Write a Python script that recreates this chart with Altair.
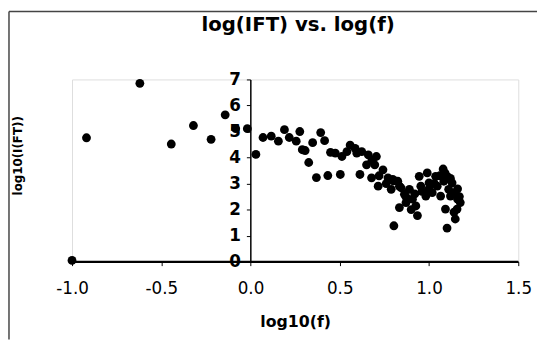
import altair as alt
import pandas as pd

# log10(f) values
x_vals = [
    -1.0, -0.919, -0.62, -0.444, -0.32, -0.221, -0.142, -0.083, -0.018, 0.03,
    0.07, 0.116, 0.156, 0.19, 0.217, 0.256, 0.276, 0.306, 0.326, 0.348,
    0.369, 0.393, 0.415, 0.433, 0.448, 0.475, 0.503, 0.512, 0.54, 0.558,
    0.586, 0.595, 0.623, 0.613, 0.66, 0.65, 0.678, 0.696, 0.705, 0.715,
    0.742, 0.77, 0.788, 0.797, 0.80, 0.825, 0.834, 0.843, 0.834, 0.803,
    0.862, 0.871, 0.89, 0.907, 0.926, 0.935, 0.945, 0.954, 0.982, 0.99,
    1.0, 1.018, 1.037, 1.046, 1.065, 1.079, 1.083, 1.092, 1.101, 1.101,
    1.11, 1.12, 1.129, 1.147, 1.147, 1.157, 1.175,
    0.68, 0.72, 0.76, 0.87, 0.92, 0.96, 1.0, 1.03, 1.06, 1.09,
    1.12, 1.16, 1.17, 1.14, 0.90, 1.16, 0.29,
]
# log10(I(FT)) values
y_vals = [
    0.05, 4.76, 6.85, 4.52, 5.23, 4.70, 5.64, 5.11, 5.11, 4.12,
    4.77, 4.82, 4.63, 5.07, 4.77, 4.63, 5.00, 4.27, 3.81, 4.57,
    3.23, 4.96, 4.65, 3.31, 4.20, 4.17, 3.35, 4.04, 4.23, 4.48,
    4.35, 4.17, 4.23, 3.35, 4.10, 3.72, 3.22, 3.72, 4.04, 2.90,
    3.53, 3.22, 2.78, 3.16, 3.10, 3.09, 2.90, 2.84, 2.08, 1.38,
    2.59, 2.27, 2.78, 2.40, 2.14, 1.77, 3.28, 2.90, 2.52, 3.41,
    3.03, 2.65, 3.28, 2.90, 2.52, 3.56, 3.09, 2.02, 3.28, 1.29,
    2.78, 2.52, 3.03, 2.65, 1.64, 2.02, 2.27,
    3.90, 3.30, 3.00, 2.50, 2.60, 2.70, 2.80, 3.00, 3.30, 3.40,
    3.20, 2.80, 2.50, 1.90, 2.00, 2.40, 4.30,
]
x_ticks = [-1.0, -0.5, 0.0, 0.5, 1.0, 1.5]
y_ticks = [0, 1, 2, 3, 4, 5, 6, 7]
x_domain = [-1.0, 1.5]
y_domain = [0, 7]

df = pd.DataFrame({"lf": x_vals, "lift": y_vals})

FONT = "DejaVu Sans"

x_enc = alt.X(
    "lf:Q",
    scale=alt.Scale(domain=x_domain, nice=False, zero=False),
    axis=alt.Axis(
        values=x_ticks,
        labelExpr="replace(format(datum.value, '.1f'), '\u2212', '-')",
        labelFlush=False,
        labelOverlap=False,
        title="log10(f)",
        grid=False,
        domain=True,
        domainColor="black",
        domainWidth=1.5,
        ticks=True,
        tickColor="black",
        tickSize=4,
        labelPadding=15,
        labelFont=FONT,
        labelFontSize=17,
        labelColor="black",
        titleFont=FONT,
        titleFontSize=16,
        titleFontWeight="bold",
        titleColor="black",
        titleY=66,
        titleBaseline="alphabetic",
    ),
)
y_enc = alt.Y(
    "lift:Q",
    scale=alt.Scale(domain=y_domain, nice=False, zero=False),
    axis=alt.Axis(
        values=y_ticks,
        format="d",
        offset=-181,
        labelFlush=False,
        labelOverlap=False,
        title="log10(I(FT))",
        grid=False,
        domainColor="black",
        domainWidth=1.5,
        tickColor="black",
        tickSize=4,
        labelPadding=6,
        labelFont=FONT,
        labelFontSize=17,
        labelFontWeight="bold",
        labelColor="black",
        titleFont=FONT,
        titleFontSize=12,
        titleFontWeight="bold",
        titleColor="black",
        titleAngle=270,
        titleX=-232,
        titleY=77,
        titleAlign="center",
        titleBaseline="alphabetic",
    ),
)

points = alt.Chart(df).mark_circle(size=80, color="black", opacity=1).encode(
    x=x_enc, y=y_enc
)

# x axis line at y = 0, spanning the x domain
axis_df = pd.DataFrame({"lf": [x_domain[0]], "lf2": [x_domain[1]], "lift": [0]})
x_line = alt.Chart(axis_df).mark_rule(color="black", strokeWidth=2).encode(
    x=x_enc, x2="lf2:Q", y=y_enc
)

frame_df = pd.DataFrame({"k": [0]})
left_line = alt.Chart(frame_df).mark_rule(color="#444444", strokeWidth=1.5).encode(
    x=alt.value(-64), y=alt.value(-69), y2=alt.value(264)
)
top_line = alt.Chart(frame_df).mark_rule(color="#444444", strokeWidth=1.5).encode(
    x=alt.value(-64), x2=alt.value(472), y=alt.value(-69)
)

chart = (
    alt.layer(points, x_line, left_line, top_line)
    .properties(
        width=453,
        height=185,
        autosize="none",
        padding={"left": 65, "top": 70, "right": 19, "bottom": 79},
        title=alt.TitleParams(
            "log(IFT) vs. log(f)",
            font=FONT,
            fontSize=20,
            fontWeight="bold",
            color="black",
            anchor="middle",
            baseline="alphabetic",
            offset=-41,
            dx=3,
        ),
    )
    .configure_view(stroke=None)
    .configure(background="white")
)

chart.save("out.html", embed_options={"renderer": "svg", "actions": False})
